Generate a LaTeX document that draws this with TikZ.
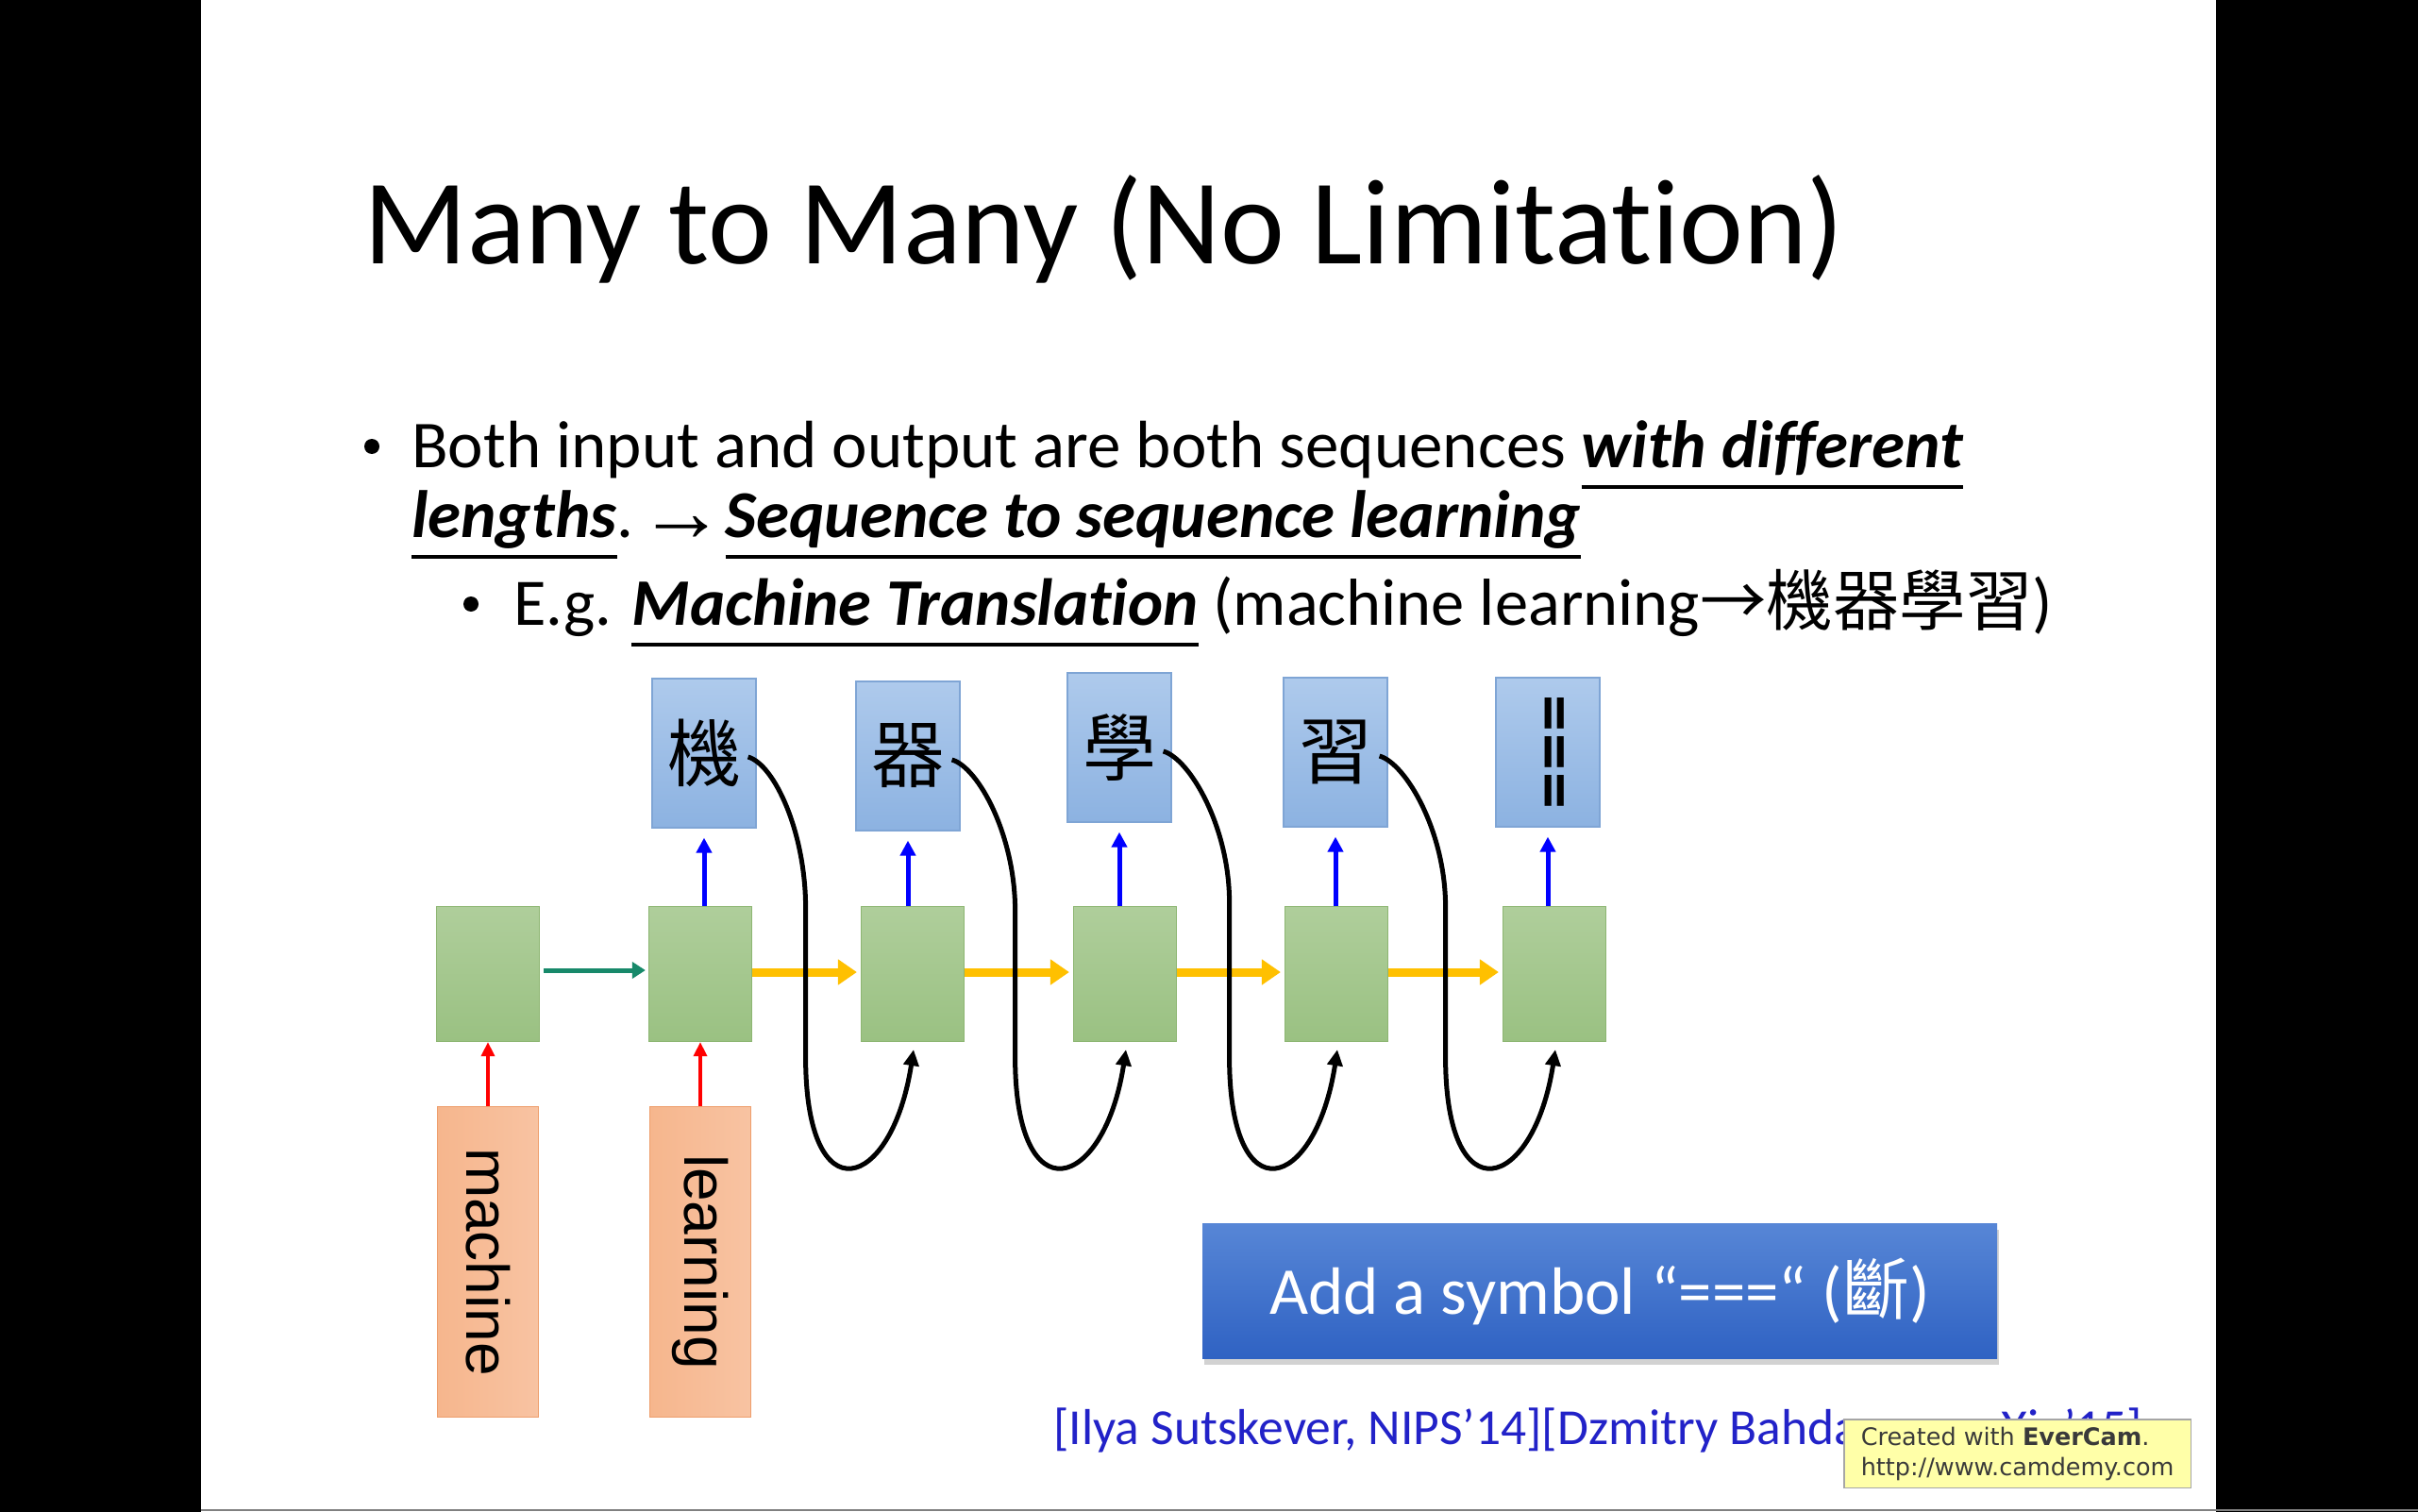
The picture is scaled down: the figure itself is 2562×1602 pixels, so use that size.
\documentclass[tikz,border=0pt]{standalone}
\usepackage{fontspec}
\setmainfont{Carlito}[Ligatures=NoCommon]
\newfontfamily\cjk{Noto Sans CJK TC}
\newfontfamily\arialf{Liberation Sans}
\newfontfamily\timesf{Liberation Serif}
\newfontfamily\dejavu{DejaVu Sans}
\usetikzlibrary{calc,arrows.meta,shadows}
\definecolor{gtop}{HTML}{AFCE9B}
\definecolor{gbot}{HTML}{9AC182}
\definecolor{gdraw}{HTML}{8DB672}
\definecolor{btop}{HTML}{AECAEC}
\definecolor{bbot}{HTML}{8CB2E1}
\definecolor{bdraw}{HTML}{7FA5D5}
\definecolor{otop}{HTML}{F6B68D}
\definecolor{obot}{HTML}{F8C3A2}
\definecolor{odraw}{HTML}{EE9E6C}
\definecolor{yarrow}{HTML}{FFC000}
\definecolor{tarrow}{HTML}{17896A}
\definecolor{btntop}{HTML}{5786D6}
\definecolor{btnbot}{HTML}{2F62C3}
\definecolor{citec}{HTML}{2222C8}
\definecolor{wmfill}{HTML}{FFFFA8}
\definecolor{wmtext}{HTML}{3A3A3A}
\newsavebox\ulbox
\newcommand{\ulx}[1]{\sbox\ulbox{#1}\rlap{\rule[-0.33em]{\wd\ulbox}{0.065em}}\usebox\ulbox}
\begin{document}
\begin{tikzpicture}[x=1pt,y=-1pt,
  txt/.style={anchor=base west,inner sep=0pt,font=\fontsize{71}{84}\selectfont},
  bul/.style={circle,fill=black,inner sep=0pt,minimum size=16pt},
  gbox/.style={draw=gdraw,line width=1.2pt,top color=gtop,bottom color=gbot,minimum width=109pt,minimum height=143pt,inner sep=0pt},
  bbox/.style={draw=bdraw,line width=1.2pt,top color=btop,bottom color=bbot,minimum width=110pt,minimum height=158pt,inner sep=0pt,font=\cjk\fontsize{78}{78}\selectfont},
  obox/.style={draw=odraw,line width=1.2pt,left color=otop,right color=obot,minimum width=107pt,minimum height=329pt,inner sep=0pt,font=\arialf\fontsize{64}{64}\selectfont},
  barrow/.style={draw=blue,line width=5pt,-{Triangle[length=16pt,width=16pt]}},
  rarrow/.style={draw=red,line width=3.5pt,-{Triangle[length=15pt,width=14pt]}},
  tarr/.style={draw=tarrow,line width=5pt,-{Triangle[length=14pt,width=17pt]}},
  yarr/.style={draw=yarrow,line width=9pt,-{Triangle[length=20pt,width=26pt]}},
  loopline/.style={draw=black,line width=5pt,-{Triangle[length=17pt,width=16pt]}},
  btn/.style={top color=btntop,bottom color=btnbot,minimum width=842pt,minimum height=143pt,inner sep=0pt,text=white,font=\fontsize{71}{84}\selectfont,drop shadow={shadow xshift=2pt,shadow yshift=-6pt,opacity=0.35}},
  wmbox/.style={draw=gray!70,line width=1.5pt,fill=wmfill,inner xsep=18pt,inner ysep=8pt,align=left,text=wmtext,font=\dejavu\fontsize{25.5}{32}\selectfont}
]
\useasboundingbox (0,0) rectangle (2562,1602);
\fill[white] (0,0) rectangle (2562,1602);
\fill[black] (0,0) rectangle (213,1602);
\fill[black] (2348,0) rectangle (2562,1602);
\draw[gray,line width=2pt] (213,1600) -- (2562,1600);

% title
\node[anchor=base west,inner sep=0pt,font=\fontsize{128.5}{150}\selectfont] (title) at (385,280) {Many to Many (No Limitation)};

% bullets
\node[bul] (bu1) at (394,473) {};
\node[txt] (l1) at (436,495) {Both input and output are both sequences \ulx{\textbf{\textit{with different}}}};
\node[txt] (l2) at (436,569) {\ulx{\textbf{\textit{lengths}}}.\hspace{5pt}\smash{\raisebox{-4pt}{\timesf\fontsize{92}{84}\selectfont →}}\hspace{0pt}\ulx{\textbf{\textit{Sequence to sequence learning}}}};
\node[bul] (bu2) at (499,640) {};
\node[txt,font=\fontsize{70.5}{84}\selectfont] (l3) at (544,662) {E.g. \ulx{\textbf{\textit{Machine Translation}}} (machine learning{\cjk →機器學習})};

% green RNN cells
\node[gbox] (g1) at (517,1032) {};
\node[gbox] (g2) at (742,1032) {};
\node[gbox] (g3) at (967,1032) {};
\node[gbox] (g4) at (1192,1032) {};
\node[gbox] (g5) at (1416,1032) {};
\node[gbox] (g6) at (1647,1032) {};

% blue outputs
\node[bbox] (b1) at (746,798) {機};
\node[bbox] (b2) at (962,801) {器};
\node[bbox] (b3) at (1186,792) {學};
\node[bbox] (b4) at (1415,797) {習};
\node[bbox] (b5) at (1640,797) {\rmfamily\bfseries\fontsize{78}{78}\selectfont\rotatebox{-90}{=\kern0.03em=\kern0.03em=}};

% orange inputs
\node[obox] (o1) at (517,1337) {\rotatebox{-90}{machine}};
\node[obox] (o2) at (742,1337) {\rotatebox{-90}{learning}};

% input arrows
\draw[rarrow] (o1.north) -- (g1.south);
\draw[rarrow] (o2.north) -- (g2.south);

% output arrows
\foreach \g/\b in {g2/b1,g3/b2,g4/b3,g5/b4,g6/b5}
  \draw[barrow] (\b.south |- \g.north) -- ([yshift=-10pt]\b.south);

% recurrent arrows
\draw[tarr,shorten <=4pt,shorten >=3pt] (g1.east |- 0,1028) coordinate (t1) -- (g2.west |- t1);
\foreach \a/\c in {g2/g3,g3/g4,g4/g5,g5/g6}
  \draw[yarr,shorten >=4pt] (\a.east |- 0,1030) coordinate (y\a) -- (\c.west |- y\a);

% feedback loops
\foreach \i/\j/\dx in {b1/g3/52,b2/g4/58,b3/g5/61,b4/g6/61}{
  \path ($(\i.east)+(-9,4)$) coordinate (s\i)
        ($(\i.east)+(\dx,164)$) coordinate (v\i)
        ($(\j.south)+(0,16)$) coordinate (h\i)
        ($(\j.south)+(1,8)$) coordinate (e\i);
  \path (v\i |- h\i) coordinate (w\i);
  \draw[loopline] (s\i) .. controls +(28,8) and +(0,-80) .. (v\i) -- (w\i) .. controls +(0,170) and +(-23,150) .. (e\i);
}

% button
\node[btn] (add) at (1695,1368) {Add a symbol “===“ ({\cjk 斷})};

% citation
\node[anchor=base west,inner sep=0pt,text=citec,font=\fontsize{53.5}{64}\selectfont] (cite) at (1116,1530) {[Ilya Sutskever, NIPS’14][Dzmitry Bahdanau, arXiv’15]};

% watermark
\node[wmbox,anchor=north west] (wm) at (1953,1503) {Created with \textbf{EverCam}.\\http://www.camdemy.com};
\end{tikzpicture}
\end{document}
